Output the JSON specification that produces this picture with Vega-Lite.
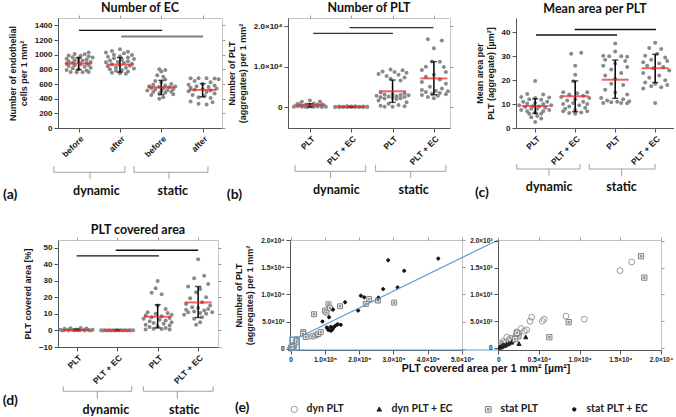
{
"$schema": "https://vega.github.io/schema/vega-lite/v6.json",
"padding": {"left": 2, "top": 1, "right": 0, "bottom": 0},
"bounds": "flush",
"spacing": 222,
"datasets": {
"a": [
{"g":1,"v":1030,"j":2.5},{"g":1,"v":1010,"j":-1},{"g":1,"v":1005,"j":1.5},{"g":1,"v":990,"j":-2.5},{"g":1,"v":985,"j":0.5},{"g":1,"v":975,"j":2.5},{"g":1,"v":965,"j":-1.5},{"g":1,"v":960,"j":3.5},{"g":1,"v":950,"j":0},{"g":1,"v":945,"j":-3},{"g":1,"v":935,"j":2},{"g":1,"v":925,"j":-1},{"g":1,"v":920,"j":1},{"g":1,"v":910,"j":-2.5},{"g":1,"v":900,"j":3},{"g":1,"v":895,"j":0},{"g":1,"v":890,"j":-1.5},{"g":1,"v":885,"j":2},{"g":1,"v":875,"j":-3},{"g":1,"v":870,"j":0.5},{"g":1,"v":860,"j":2.5},{"g":1,"v":855,"j":-1},{"g":1,"v":845,"j":-2.5},{"g":1,"v":835,"j":1.5},{"g":1,"v":820,"j":3},{"g":1,"v":815,"j":-1.5},{"g":1,"v":800,"j":0},{"g":1,"v":790,"j":-3},{"g":1,"v":785,"j":2},{"g":1,"v":765,"j":-2},{"g":1,"v":760,"j":-0.5},{"g":1,"v":760,"j":1},{"g":1,"v":765,"j":2.5},
{"g":2,"v":1075,"j":0},{"g":2,"v":1050,"j":-2},{"g":2,"v":1040,"j":2},{"g":2,"v":1030,"j":-3.5},{"g":2,"v":1020,"j":1},{"g":2,"v":1000,"j":-1.5},{"g":2,"v":995,"j":3},{"g":2,"v":980,"j":0},{"g":2,"v":970,"j":-3},{"g":2,"v":960,"j":2},{"g":2,"v":950,"j":-1.5},{"g":2,"v":940,"j":3.5},{"g":2,"v":930,"j":0.5},{"g":2,"v":920,"j":-2.5},{"g":2,"v":910,"j":2},{"g":2,"v":900,"j":-0.5},{"g":2,"v":895,"j":-3.5},{"g":2,"v":885,"j":1},{"g":2,"v":875,"j":3},{"g":2,"v":870,"j":-2},{"g":2,"v":860,"j":0},{"g":2,"v":850,"j":2.5},{"g":2,"v":840,"j":-3},{"g":2,"v":830,"j":-1},{"g":2,"v":820,"j":1.5},{"g":2,"v":810,"j":3.5},{"g":2,"v":800,"j":-2.5},{"g":2,"v":790,"j":0.5},{"g":2,"v":780,"j":-1},{"g":2,"v":770,"j":2},{"g":2,"v":755,"j":-2},{"g":2,"v":745,"j":0},{"g":2,"v":740,"j":1.5},
{"g":3,"v":800,"j":-0.5},{"g":3,"v":790,"j":1},{"g":3,"v":770,"j":0},{"g":3,"v":720,"j":-1},{"g":3,"v":700,"j":0.5},{"g":3,"v":660,"j":1},{"g":3,"v":640,"j":-1.5},{"g":3,"v":620,"j":0},{"g":3,"v":600,"j":2.5},{"g":3,"v":590,"j":-2},{"g":3,"v":580,"j":1},{"g":3,"v":570,"j":-3},{"g":3,"v":565,"j":3.5},{"g":3,"v":560,"j":-0.5},{"g":3,"v":555,"j":2},{"g":3,"v":545,"j":-2.5},{"g":3,"v":540,"j":0.5},{"g":3,"v":530,"j":3},{"g":3,"v":525,"j":-1.5},{"g":3,"v":515,"j":1.5},{"g":3,"v":510,"j":-3.5},{"g":3,"v":500,"j":0},{"g":3,"v":495,"j":2.5},{"g":3,"v":490,"j":-2},{"g":3,"v":480,"j":1},{"g":3,"v":470,"j":-0.5},{"g":3,"v":460,"j":3},{"g":3,"v":450,"j":-2.5},{"g":3,"v":420,"j":0.5},{"g":3,"v":400,"j":-0.5},
{"g":4,"v":680,"j":-3},{"g":4,"v":680,"j":-1},{"g":4,"v":680,"j":1},{"g":4,"v":675,"j":3},{"g":4,"v":665,"j":4},{"g":4,"v":640,"j":-2},{"g":4,"v":625,"j":2},{"g":4,"v":600,"j":0},{"g":4,"v":590,"j":-3.5},{"g":4,"v":580,"j":3},{"g":4,"v":570,"j":-1.5},{"g":4,"v":560,"j":1.5},{"g":4,"v":550,"j":-3},{"g":4,"v":540,"j":3.5},{"g":4,"v":530,"j":0},{"g":4,"v":520,"j":-2},{"g":4,"v":510,"j":2},{"g":4,"v":500,"j":-3.5},{"g":4,"v":490,"j":1},{"g":4,"v":470,"j":3},{"g":4,"v":450,"j":-2.5},{"g":4,"v":440,"j":0.5},{"g":4,"v":420,"j":-1},{"g":4,"v":410,"j":2},{"g":4,"v":360,"j":-3},{"g":4,"v":350,"j":2.5},{"g":4,"v":330,"j":-1},{"g":4,"v":320,"j":1}
],
"b": [
{"g":1,"v":1600,"j":0},{"g":1,"v":1400,"j":2.5},{"g":1,"v":1300,"j":-2},{"g":1,"v":900,"j":1},{"g":1,"v":800,"j":-3},{"g":1,"v":700,"j":3},{"g":1,"v":650,"j":-1},{"g":1,"v":600,"j":2},{"g":1,"v":550,"j":-2.5},{"g":1,"v":500,"j":0},{"g":1,"v":450,"j":3.5},{"g":1,"v":400,"j":-3.5},{"g":1,"v":350,"j":1.5},{"g":1,"v":300,"j":-1.5},{"g":1,"v":250,"j":3},{"g":1,"v":200,"j":-3},{"g":1,"v":150,"j":0.5},{"g":1,"v":120,"j":2},{"g":1,"v":100,"j":-2},{"g":1,"v":80,"j":-0.5},{"g":1,"v":60,"j":1},{"g":1,"v":50,"j":4},{"g":1,"v":40,"j":-4},{"g":1,"v":20,"j":3},{"g":1,"v":10,"j":-1},
{"g":2,"v":200,"j":-1},{"g":2,"v":180,"j":1},{"g":2,"v":150,"j":3},{"g":2,"v":150,"j":-3},{"g":2,"v":120,"j":0},{"g":2,"v":100,"j":2},{"g":2,"v":100,"j":-2},{"g":2,"v":90,"j":4},{"g":2,"v":80,"j":-4},{"g":2,"v":70,"j":1},{"g":2,"v":60,"j":-1},{"g":2,"v":50,"j":3},{"g":2,"v":50,"j":-3},{"g":2,"v":40,"j":0},{"g":2,"v":30,"j":2},{"g":2,"v":30,"j":-2},{"g":2,"v":20,"j":4},{"g":2,"v":20,"j":-4},{"g":2,"v":10,"j":1},{"g":2,"v":10,"j":-1},{"g":2,"v":5,"j":3},{"g":2,"v":5,"j":-3},{"g":2,"v":0,"j":0},
{"g":3,"v":9300,"j":-0.5},{"g":3,"v":9100,"j":2.5},{"g":3,"v":8800,"j":-2.5},{"g":3,"v":8700,"j":0.5},{"g":3,"v":8500,"j":3.5},{"g":3,"v":8200,"j":-3.5},{"g":3,"v":8000,"j":1.5},{"g":3,"v":7700,"j":-1.5},{"g":3,"v":7300,"j":3},{"g":3,"v":7000,"j":-0.5},{"g":3,"v":6600,"j":2},{"g":3,"v":3600,"j":-3},{"g":3,"v":3400,"j":3},{"g":3,"v":3200,"j":0},{"g":3,"v":3100,"j":-2},{"g":3,"v":3000,"j":2},{"g":3,"v":2900,"j":4},{"g":3,"v":2800,"j":-4},{"g":3,"v":2700,"j":1},{"g":3,"v":2600,"j":-1},{"g":3,"v":2500,"j":3},{"g":3,"v":2400,"j":-3},{"g":3,"v":2300,"j":0},{"g":3,"v":2200,"j":2},{"g":3,"v":2100,"j":-2},{"g":3,"v":2000,"j":1},{"g":3,"v":1600,"j":-3.5},{"g":3,"v":1200,"j":3.5},{"g":3,"v":800,"j":-1},{"g":3,"v":500,"j":1.5},{"g":3,"v":300,"j":-3},{"g":3,"v":200,"j":3},{"g":3,"v":100,"j":0},{"g":3,"v":50,"j":-2},
{"g":4,"v":16800,"j":-1.5},{"g":4,"v":16500,"j":2},{"g":4,"v":14600,"j":0},{"g":4,"v":11300,"j":-0.5},{"g":4,"v":11200,"j":1.5},{"g":4,"v":10000,"j":-2},{"g":4,"v":9900,"j":2.5},{"g":4,"v":9200,"j":-3},{"g":4,"v":8700,"j":3},{"g":4,"v":8000,"j":0},{"g":4,"v":7500,"j":-2},{"g":4,"v":6800,"j":1.5},{"g":4,"v":6200,"j":-3},{"g":4,"v":5800,"j":3},{"g":4,"v":5000,"j":-1},{"g":4,"v":4600,"j":2},{"g":4,"v":4200,"j":-3},{"g":4,"v":4000,"j":0.5},{"g":4,"v":3900,"j":3.5},{"g":4,"v":3700,"j":-2},{"g":4,"v":3500,"j":1.5},{"g":4,"v":3300,"j":-0.5},{"g":4,"v":3200,"j":3},{"g":4,"v":3000,"j":-3},{"g":4,"v":2800,"j":1},{"g":4,"v":2500,"j":-1.5},{"g":4,"v":2200,"j":0}
],
"c": [
{"g":1,"v":19.7,"j":0},{"g":1,"v":14.2,"j":-2},{"g":1,"v":14,"j":2},{"g":1,"v":13,"j":-3.5},{"g":1,"v":12.8,"j":3.5},{"g":1,"v":12.5,"j":0},{"g":1,"v":12,"j":-1.5},{"g":1,"v":11.8,"j":1.5},{"g":1,"v":11,"j":-3},{"g":1,"v":11,"j":3},{"g":1,"v":10.5,"j":0},{"g":1,"v":10.2,"j":-2},{"g":1,"v":10,"j":2},{"g":1,"v":9.5,"j":-4},{"g":1,"v":9.5,"j":4},{"g":1,"v":9.2,"j":-0.5},{"g":1,"v":9,"j":1},{"g":1,"v":8.8,"j":-2.5},{"g":1,"v":8.5,"j":2.5},{"g":1,"v":8,"j":-1},{"g":1,"v":8,"j":0.5},{"g":1,"v":7.5,"j":3.5},{"g":1,"v":7.5,"j":-3.5},{"g":1,"v":7,"j":2},{"g":1,"v":7,"j":-2},{"g":1,"v":6.5,"j":0},{"g":1,"v":6,"j":1.5},{"g":1,"v":6,"j":-1.5},{"g":1,"v":5,"j":0.5},{"g":1,"v":4.5,"j":-1},{"g":1,"v":4,"j":1.5},{"g":1,"v":2.5,"j":0},
{"g":2,"v":31.5,"j":1.5},{"g":2,"v":31,"j":-1},{"g":2,"v":26,"j":0},{"g":2,"v":22.3,"j":0},{"g":2,"v":19.5,"j":-0.5},{"g":2,"v":15,"j":-3},{"g":2,"v":15,"j":3},{"g":2,"v":14.5,"j":0.5},{"g":2,"v":14,"j":-1.5},{"g":2,"v":13.5,"j":2},{"g":2,"v":13,"j":-3.5},{"g":2,"v":12.5,"j":3.5},{"g":2,"v":12,"j":0},{"g":2,"v":11.5,"j":-2},{"g":2,"v":11,"j":2},{"g":2,"v":10.5,"j":-0.5},{"g":2,"v":10,"j":3},{"g":2,"v":10,"j":-3},{"g":2,"v":9.5,"j":1},{"g":2,"v":9,"j":-1.5},{"g":2,"v":8.5,"j":2.5},{"g":2,"v":8,"j":-2.5},{"g":2,"v":7.5,"j":0},{"g":2,"v":7,"j":3},{"g":2,"v":7,"j":-3},{"g":2,"v":6.5,"j":1.5},{"g":2,"v":6.3,"j":-1.5},{"g":2,"v":6,"j":0},
{"g":3,"v":35.3,"j":0},{"g":3,"v":32,"j":0},{"g":3,"v":30.2,"j":-3},{"g":3,"v":30,"j":-1.5},{"g":3,"v":30,"j":1.5},{"g":3,"v":29.8,"j":3},{"g":3,"v":28.5,"j":-2.5},{"g":3,"v":28,"j":2.5},{"g":3,"v":27,"j":0},{"g":3,"v":26,"j":-3},{"g":3,"v":25.5,"j":3},{"g":3,"v":24.5,"j":-1},{"g":3,"v":23,"j":1.5},{"g":3,"v":22,"j":-2.5},{"g":3,"v":20.5,"j":0},{"g":3,"v":18.5,"j":-1},{"g":3,"v":18,"j":2},{"g":3,"v":16,"j":-2.5},{"g":3,"v":14.8,"j":0},{"g":3,"v":14,"j":3},{"g":3,"v":12.5,"j":-3.5},{"g":3,"v":12,"j":2},{"g":3,"v":11.5,"j":-2},{"g":3,"v":11.2,"j":3.5},{"g":3,"v":11,"j":0.5},{"g":3,"v":10.8,"j":-1},{"g":3,"v":10.5,"j":1.5},{"g":3,"v":10.5,"j":-3},{"g":3,"v":10.3,"j":3},
{"g":4,"v":35.7,"j":0},{"g":4,"v":33.5,"j":-1.5},{"g":4,"v":33,"j":1.5},{"g":4,"v":31,"j":0.5},{"g":4,"v":30.2,"j":-2.5},{"g":4,"v":29.5,"j":2.5},{"g":4,"v":28.5,"j":-1},{"g":4,"v":28,"j":3},{"g":4,"v":27.5,"j":-3},{"g":4,"v":27,"j":1},{"g":4,"v":26,"j":-2},{"g":4,"v":25.5,"j":2},{"g":4,"v":25,"j":-0.5},{"g":4,"v":24,"j":3.5},{"g":4,"v":23,"j":-3},{"g":4,"v":22,"j":1},{"g":4,"v":21,"j":-1.5},{"g":4,"v":20,"j":2.5},{"g":4,"v":19,"j":-2.5},{"g":4,"v":18.5,"j":0},{"g":4,"v":18,"j":3},{"g":4,"v":17.5,"j":-1},{"g":4,"v":17,"j":1.5},{"g":4,"v":16.5,"j":-3},{"g":4,"v":10.5,"j":0}
],
"d": [
{"g":1,"v":1.5,"j":1},{"g":1,"v":1.3,"j":-1.5},{"g":1,"v":1.2,"j":2.5},{"g":1,"v":1.0,"j":-3},{"g":1,"v":0.6,"j":0},{"g":1,"v":0.5,"j":-2},{"g":1,"v":0.5,"j":2},{"g":1,"v":0.4,"j":-4},{"g":1,"v":0.4,"j":4},{"g":1,"v":0.3,"j":1},{"g":1,"v":0.3,"j":-1},{"g":1,"v":0.2,"j":3},{"g":1,"v":0.2,"j":-3},{"g":1,"v":0.1,"j":0.5},{"g":1,"v":0.1,"j":-0.5},{"g":1,"v":0,"j":2},{"g":1,"v":0,"j":-2},{"g":1,"v":0,"j":3.5},{"g":1,"v":0,"j":-3.5},
{"g":2,"v":0.2,"j":0},{"g":2,"v":0.15,"j":-1},{"g":2,"v":0.15,"j":1},{"g":2,"v":0.1,"j":-2},{"g":2,"v":0.1,"j":2},{"g":2,"v":0.1,"j":-3},{"g":2,"v":0.1,"j":3},{"g":2,"v":0.05,"j":-4},{"g":2,"v":0.05,"j":4},{"g":2,"v":0,"j":-0.5},{"g":2,"v":0,"j":0.5},{"g":2,"v":0,"j":-1.5},{"g":2,"v":0,"j":1.5},{"g":2,"v":0,"j":-2.5},{"g":2,"v":0,"j":2.5},{"g":2,"v":0,"j":-3.5},{"g":2,"v":0,"j":3.5},
{"g":3,"v":29.8,"j":0},{"g":3,"v":25.5,"j":-0.5},{"g":3,"v":22.8,"j":-1.5},{"g":3,"v":21.8,"j":1},{"g":3,"v":15,"j":0},{"g":3,"v":13,"j":2},{"g":3,"v":11,"j":-2.5},{"g":3,"v":10.5,"j":2.5},{"g":3,"v":10,"j":-0.5},{"g":3,"v":9.5,"j":3.5},{"g":3,"v":9,"j":-3},{"g":3,"v":8.5,"j":1},{"g":3,"v":8,"j":-1.5},{"g":3,"v":7.5,"j":3},{"g":3,"v":7,"j":-3.5},{"g":3,"v":6.5,"j":0.5},{"g":3,"v":6,"j":2},{"g":3,"v":5.5,"j":-2},{"g":3,"v":5,"j":3.5},{"g":3,"v":4.5,"j":-1},{"g":3,"v":4,"j":1.5},{"g":3,"v":3.5,"j":-3},{"g":3,"v":3,"j":3},{"g":3,"v":2.5,"j":0},{"g":3,"v":2,"j":-2},{"g":3,"v":1.5,"j":2},{"g":3,"v":1,"j":-1},{"g":3,"v":0.8,"j":1},{"g":3,"v":0.5,"j":-3},{"g":3,"v":0.5,"j":3},
{"g":4,"v":43,"j":0},{"g":4,"v":33,"j":1.5},{"g":4,"v":31.5,"j":-1},{"g":4,"v":28,"j":2.5},{"g":4,"v":26.5,"j":-2.5},{"g":4,"v":25,"j":0.5},{"g":4,"v":23,"j":-0.5},{"g":4,"v":20,"j":2},{"g":4,"v":19.5,"j":-2},{"g":4,"v":17,"j":1},{"g":4,"v":16,"j":-3},{"g":4,"v":15,"j":3},{"g":4,"v":14,"j":-1.5},{"g":4,"v":13.5,"j":0},{"g":4,"v":13,"j":2.5},{"g":4,"v":12.5,"j":-3},{"g":4,"v":12,"j":1.5},{"g":4,"v":11.5,"j":-1},{"g":4,"v":11,"j":3.5},{"g":4,"v":11,"j":-2.5},{"g":4,"v":10.5,"j":0.5},{"g":4,"v":10,"j":2},{"g":4,"v":9.5,"j":-3.5},{"g":4,"v":8,"j":1},{"g":4,"v":7,"j":-1},{"g":4,"v":5,"j":0.5},{"g":4,"v":3.5,"j":-0.5}
],
"sa": [{"g":1,"m":880,"lo":795,"hi":960},{"g":2,"m":865,"lo":763,"hi":960},{"g":3,"m":555,"lo":455,"hi":650},{"g":4,"m":520,"lo":425,"hi":605}],
"sb": [{"g":1,"m":420,"lo":0,"hi":800},{"g":2,"m":50,"lo":0,"hi":100},{"g":3,"m":3900,"lo":1150,"hi":6700},{"g":4,"m":7100,"lo":3050,"hi":11250}],
"sc": [{"g":1,"m":9.2,"lo":6.1,"hi":12.2},{"g":2,"m":13.3,"lo":6.8,"hi":19.7},{"g":3,"m":20.2,"lo":12.4,"hi":28.4},{"g":4,"m":25,"lo":19,"hi":30.8}],
"sd": [{"g":1,"m":0.3,"lo":0,"hi":0.8},{"g":2,"m":0.05,"lo":0,"hi":0.1},{"g":3,"m":8.3,"lo":1.5,"hi":15.5},{"g":4,"m":16.9,"lo":7.8,"hi":26.5}],
"e": [
{"s":"dyn PLT","x":14960,"y":1443},{"s":"dyn PLT","x":16390,"y":1605},{"s":"dyn PLT","x":4100,"y":573},{"s":"dyn PLT","x":3900,"y":498},{"s":"dyn PLT","x":5620,"y":535},{"s":"dyn PLT","x":5410,"y":498},{"s":"dyn PLT","x":8320,"y":591},{"s":"dyn PLT","x":10570,"y":535},{"s":"dyn PLT","x":2790,"y":361},{"s":"dyn PLT","x":3200,"y":311},{"s":"dyn PLT","x":3480,"y":336},{"s":"dyn PLT","x":2260,"y":299},{"s":"dyn PLT","x":2200,"y":236},{"s":"dyn PLT","x":1030,"y":199},{"s":"dyn PLT","x":1850,"y":187},{"s":"dyn PLT","x":615,"y":125},{"s":"dyn PLT","x":205,"y":81},{"s":"dyn PLT","x":1300,"y":150},{"s":"dyn PLT","x":900,"y":100},{"s":"dyn PLT","x":500,"y":60},{"s":"dyn PLT","x":300,"y":40},{"s":"dyn PLT","x":1500,"y":180},{"s":"dyn PLT","x":2500,"y":250},{"s":"dyn PLT","x":700,"y":90},
{"s":"dyn PLT + EC","x":3370,"y":199},{"s":"dyn PLT + EC","x":2540,"y":75},{"s":"dyn PLT + EC","x":1650,"y":100},{"s":"dyn PLT + EC","x":1020,"y":62},{"s":"dyn PLT + EC","x":800,"y":40},{"s":"dyn PLT + EC","x":500,"y":30},{"s":"dyn PLT + EC","x":300,"y":20},{"s":"dyn PLT + EC","x":1300,"y":80},{"s":"dyn PLT + EC","x":200,"y":10},{"s":"dyn PLT + EC","x":1800,"y":140},{"s":"dyn PLT + EC","x":600,"y":50},{"s":"dyn PLT + EC","x":100,"y":5},{"s":"dyn PLT + EC","x":400,"y":15},
{"s":"stat PLT","x":17540,"y":1711},{"s":"stat PLT","x":17950,"y":1312},{"s":"stat PLT","x":8650,"y":480},{"s":"stat PLT","x":6270,"y":199},{"s":"stat PLT","x":2460,"y":217},{"s":"stat PLT","x":2050,"y":162},{"s":"stat PLT","x":2300,"y":280},{"s":"stat PLT","x":110200,"y":8170},{"s":"stat PLT","x":100300,"y":7020},{"s":"stat PLT","x":104400,"y":6650},{"s":"stat PLT","x":115000,"y":7440},{"s":"stat PLT","x":144200,"y":7800},{"s":"stat PLT","x":68200,"y":6340},{"s":"stat PLT","x":229000,"y":9140},{"s":"stat PLT","x":219300,"y":8230},{"s":"stat PLT","x":254400,"y":8850},{"s":"stat PLT","x":302000,"y":8480},{"s":"stat PLT","x":37000,"y":3050},{"s":"stat PLT","x":36000,"y":2750},{"s":"stat PLT","x":43900,"y":2140},{"s":"stat PLT","x":73100,"y":2450},{"s":"stat PLT","x":80400,"y":2690},{"s":"stat PLT","x":87700,"y":3050},{"s":"stat PLT","x":63000,"y":2260},
{"s":"stat PLT + EC","x":284500,"y":16270},{"s":"stat PLT + EC","x":430700,"y":16580},{"s":"stat PLT + EC","x":331400,"y":14330},{"s":"stat PLT + EC","x":270000,"y":10970},{"s":"stat PLT + EC","x":312000,"y":11280},{"s":"stat PLT + EC","x":204700,"y":9760},{"s":"stat PLT + EC","x":214400,"y":9450},{"s":"stat PLT + EC","x":256400,"y":9390},{"s":"stat PLT + EC","x":158800,"y":8540},{"s":"stat PLT + EC","x":123800,"y":7200},{"s":"stat PLT + EC","x":196800,"y":7020},{"s":"stat PLT + EC","x":112000,"y":5790},{"s":"stat PLT + EC","x":92600,"y":5000},{"s":"stat PLT + EC","x":105300,"y":3900},{"s":"stat PLT + EC","x":108700,"y":3660},{"s":"stat PLT + EC","x":117000,"y":3290},{"s":"stat PLT + EC","x":121900,"y":3540},{"s":"stat PLT + EC","x":128700,"y":4150},{"s":"stat PLT + EC","x":134500,"y":4390},{"s":"stat PLT + EC","x":146200,"y":4390},{"s":"stat PLT + EC","x":137400,"y":4510},{"s":"stat PLT + EC","x":117000,"y":4020},{"s":"stat PLT + EC","x":110000,"y":3450},{"s":"stat PLT + EC","x":125000,"y":3900}
]
},
"vconcat": [
{"hconcat": [
{"width": 164, "height": 110, "title": {"text": "Number of EC", "offset": 0},
 "resolve": {"axis": {"x": "independent", "y": "independent"}},
 "layer": [
  {"data": {"name": "a"}, "mark": {"type": "point", "filled": true, "size": 16, "color": "#8a8a8a", "opacity": 1, "xOffset": {"expr": "datum.j * 4"}},
   "encoding": {
    "x": {"field": "g", "type": "quantitative", "scale": {"domain": [0.5, 4.47], "nice": false, "zero": false}, "axis": {"values": [1,2,3,4], "labelExpr": "['before','after','before','after'][datum.value-1]", "labelAngle": -45, "labelFontSize": 8.5, "labelOverlap": false, "title": null}},
    "y": {"field": "v", "type": "quantitative", "scale": {"domain": [0, 1500], "nice": false, "zero": false}, "axis": {"values": [0,200,400,600,800,1000,1200,1400], "format": "d", "labelOverlap": false, "title": ["Number of endothelial", "cells per 1 mm²"]}}}},
  {"data": {"name": "sa"}, "mark": {"type": "rule", "color": "#000", "strokeWidth": 1.5}, "encoding": {"x": {"field": "g", "type": "quantitative", "scale": {"domain": [0.5, 4.47], "nice": false, "zero": false}, "axis": null}, "y": {"field": "lo", "type": "quantitative", "scale": {"domain": [0, 1500], "nice": false, "zero": false}, "axis": null}, "y2": {"field": "hi"}}},
  {"data": {"name": "sa"}, "mark": {"type": "tick", "orient": "horizontal", "size": 6, "thickness": 1.5, "color": "#000"}, "encoding": {"x": {"field": "g", "type": "quantitative", "scale": {"domain": [0.5, 4.47], "nice": false, "zero": false}, "axis": null}, "y": {"field": "lo", "type": "quantitative", "scale": {"domain": [0, 1500], "nice": false, "zero": false}, "axis": null}}},
  {"data": {"name": "sa"}, "mark": {"type": "tick", "orient": "horizontal", "size": 6, "thickness": 1.5, "color": "#000"}, "encoding": {"x": {"field": "g", "type": "quantitative", "scale": {"domain": [0.5, 4.47], "nice": false, "zero": false}, "axis": null}, "y": {"field": "hi", "type": "quantitative", "scale": {"domain": [0, 1500], "nice": false, "zero": false}, "axis": null}}},
  {"data": {"name": "sa"}, "mark": {"type": "tick", "orient": "horizontal", "size": 27, "thickness": 2, "color": "#f01e1e"}, "encoding": {"x": {"field": "g", "type": "quantitative", "scale": {"domain": [0.5, 4.47], "nice": false, "zero": false}, "axis": null}, "y": {"field": "m", "type": "quantitative", "scale": {"domain": [0, 1500], "nice": false, "zero": false}, "axis": null}}},
  {"data": {"values": [{"x": 1.01, "x2": 3.02, "y": 1331}]}, "mark": {"type": "rule", "color": "#111", "strokeWidth": 1.2}, "encoding": {"x": {"field": "x", "type": "quantitative", "scale": {"domain": [0.5, 4.47], "nice": false, "zero": false}, "axis": {"orient": "top", "values": [1,2,3,4], "labels": false, "domain": false, "tickColor": "#9a9a9a", "tickSize": 3, "title": null}}, "x2": {"field": "x2"}, "y": {"field": "y", "type": "quantitative", "scale": {"domain": [0, 1500], "nice": false, "zero": false}, "axis": {"orient": "right", "values": [0,200,400,600,800,1000,1200,1400], "labels": false, "domain": false, "tickColor": "#9a9a9a", "tickSize": 3, "title": null}}}},
  {"data": {"values": [{"x": 2.03, "x2": 4.01, "y": 1249}]}, "mark": {"type": "rule", "color": "#7f7f7f", "strokeWidth": 2}, "encoding": {"x": {"field": "x", "type": "quantitative", "scale": {"domain": [0.5, 4.47], "nice": false, "zero": false}, "axis": null}, "x2": {"field": "x2"}, "y": {"field": "y", "type": "quantitative", "scale": {"domain": [0, 1500], "nice": false, "zero": false}, "axis": null}}},
  {"data": {"values": [{"x":0.40,"x2":2.12,"y":-604,"y2":-604},{"x":0.40,"x2":0.40,"y":-522,"y2":-604},{"x":2.12,"x2":2.12,"y":-522,"y2":-604},{"x":1.275,"x2":1.275,"y":-604,"y2":-699},{"x":2.34,"x2":4.13,"y":-604,"y2":-604},{"x":2.34,"x2":2.34,"y":-522,"y2":-604},{"x":4.13,"x2":4.13,"y":-522,"y2":-604},{"x":3.19,"x2":3.19,"y":-604,"y2":-699}]},
   "mark": {"type": "rule", "color": "#a0a0a0", "strokeWidth": 1, "clip": false}, "encoding": {"x": {"field": "x", "type": "quantitative", "scale": {"domain": [0.5, 4.47], "nice": false, "zero": false}, "axis": null}, "x2": {"field": "x2"}, "y": {"field": "y", "type": "quantitative", "scale": {"domain": [0, 1500], "nice": false, "zero": false}, "axis": null}, "y2": {"field": "y2"}}},
  {"data": {"values": [{"x": 1.43, "y": -862, "t": "dynamic"}, {"x": 3.28, "y": -862, "t": "static"}]}, "mark": {"type": "text", "font": "Lato", "fontSize": 12.5, "fontWeight": "bold", "color": "#111", "align": "center", "baseline": "middle", "clip": false}, "encoding": {"x": {"field": "x", "type": "quantitative", "scale": {"domain": [0.5, 4.47], "nice": false, "zero": false}, "axis": null}, "y": {"field": "y", "type": "quantitative", "scale": {"domain": [0, 1500], "nice": false, "zero": false}, "axis": null}, "text": {"field": "t", "type": "nominal"}}},
  {"data": {"values": [{"x": -0.83, "y": -910, "t": "(a)"}]}, "mark": {"type": "text", "font": "Lato", "fontSize": 14, "fontWeight": "bold", "color": "#111", "align": "left", "baseline": "middle", "clip": false}, "encoding": {"x": {"field": "x", "type": "quantitative", "scale": {"domain": [0.5, 4.47], "nice": false, "zero": false}, "axis": null}, "y": {"field": "y", "type": "quantitative", "scale": {"domain": [0, 1500], "nice": false, "zero": false}, "axis": null}, "text": {"field": "t", "type": "nominal"}}}
 ]},
{"width": 162, "height": 110, "title": {"text": "Number of PLT", "offset": 0},
 "resolve": {"axis": {"x": "independent", "y": "independent"}},
 "layer": [
  {"data": {"name": "b"}, "mark": {"type": "point", "filled": true, "size": 16, "color": "#8a8a8a", "opacity": 1, "xOffset": {"expr": "datum.j * 4"}},
   "encoding": {
    "x": {"field": "g", "type": "quantitative", "scale": {"domain": [0.47, 4.39], "nice": false, "zero": false}, "axis": {"values": [1,2,3,4], "labelExpr": "['PLT','PLT + EC','PLT','PLT + EC'][datum.value-1]", "labelAngle": -45, "labelFontSize": 8.5, "labelOverlap": false, "title": null}},
    "y": {"field": "v", "type": "quantitative", "scale": {"domain": [-5200, 22080], "nice": false, "zero": false}, "axis": {"values": [0, 10000, 20000], "labelExpr": "datum.value == 0 ? '0' : format(datum.value/10000, '.1f') + '×10⁴'", "labelOverlap": false, "title": ["Number of PLT", "(aggregates) per 1 mm²"]}}}},
  {"data": {"name": "sb"}, "mark": {"type": "rule", "color": "#000", "strokeWidth": 1.5}, "encoding": {"x": {"field": "g", "type": "quantitative", "scale": {"domain": [0.47, 4.39], "nice": false, "zero": false}, "axis": null}, "y": {"field": "lo", "type": "quantitative", "scale": {"domain": [-5200, 22080], "nice": false, "zero": false}, "axis": null}, "y2": {"field": "hi"}}},
  {"data": {"name": "sb"}, "mark": {"type": "tick", "orient": "horizontal", "size": 6, "thickness": 1.5, "color": "#000"}, "encoding": {"x": {"field": "g", "type": "quantitative", "scale": {"domain": [0.47, 4.39], "nice": false, "zero": false}, "axis": null}, "y": {"field": "lo", "type": "quantitative", "scale": {"domain": [-5200, 22080], "nice": false, "zero": false}, "axis": null}}},
  {"data": {"name": "sb"}, "mark": {"type": "tick", "orient": "horizontal", "size": 6, "thickness": 1.5, "color": "#000"}, "encoding": {"x": {"field": "g", "type": "quantitative", "scale": {"domain": [0.47, 4.39], "nice": false, "zero": false}, "axis": null}, "y": {"field": "hi", "type": "quantitative", "scale": {"domain": [-5200, 22080], "nice": false, "zero": false}, "axis": null}}},
  {"data": {"name": "sb"}, "mark": {"type": "tick", "orient": "horizontal", "size": 27, "thickness": 2, "color": "#f01e1e"}, "encoding": {"x": {"field": "g", "type": "quantitative", "scale": {"domain": [0.47, 4.39], "nice": false, "zero": false}, "axis": null}, "y": {"field": "m", "type": "quantitative", "scale": {"domain": [-5200, 22080], "nice": false, "zero": false}, "axis": null}}},
  {"data": {"values": [{"x": 1.08, "x2": 3.01, "y": 18285}, {"x": 1.96, "x2": 3.99, "y": 19674}]}, "mark": {"type": "rule", "color": "#333", "strokeWidth": 1.3}, "encoding": {"x": {"field": "x", "type": "quantitative", "scale": {"domain": [0.47, 4.39], "nice": false, "zero": false}, "axis": {"orient": "top", "values": [1,2,3,4], "labels": false, "domain": false, "tickColor": "#9a9a9a", "tickSize": 3, "title": null}}, "x2": {"field": "x2"}, "y": {"field": "y", "type": "quantitative", "scale": {"domain": [-5200, 22080], "nice": false, "zero": false}, "axis": {"orient": "right", "values": [0, 10000, 20000], "labels": false, "domain": false, "tickColor": "#9a9a9a", "tickSize": 3, "title": null}}}},
  {"data": {"values": [{"x":0.64,"x2":2.35,"y":-15953,"y2":-15953},{"x":0.64,"x2":0.64,"y":-14316,"y2":-15953},{"x":2.35,"x2":2.35,"y":-14316,"y2":-15953},{"x":1.50,"x2":1.50,"y":-15953,"y2":-17615},{"x":2.59,"x2":4.29,"y":-15953,"y2":-15953},{"x":2.59,"x2":2.59,"y":-14316,"y2":-15953},{"x":4.29,"x2":4.29,"y":-14316,"y2":-15953},{"x":3.44,"x2":3.44,"y":-15953,"y2":-17615}]},
   "mark": {"type": "rule", "color": "#a0a0a0", "strokeWidth": 1, "clip": false}, "encoding": {"x": {"field": "x", "type": "quantitative", "scale": {"domain": [0.47, 4.39], "nice": false, "zero": false}, "axis": null}, "x2": {"field": "x2"}, "y": {"field": "y", "type": "quantitative", "scale": {"domain": [-5200, 22080], "nice": false, "zero": false}, "axis": null}, "y2": {"field": "y2"}}},
  {"data": {"values": [{"x": 1.64, "y": -20667, "t": "dynamic"}, {"x": 3.51, "y": -20667, "t": "static"}]}, "mark": {"type": "text", "font": "Lato", "fontSize": 12.5, "fontWeight": "bold", "color": "#111", "align": "center", "baseline": "middle", "clip": false}, "encoding": {"x": {"field": "x", "type": "quantitative", "scale": {"domain": [0.47, 4.39], "nice": false, "zero": false}, "axis": null}, "y": {"field": "y", "type": "quantitative", "scale": {"domain": [-5200, 22080], "nice": false, "zero": false}, "axis": null}, "text": {"field": "t", "type": "nominal"}}},
  {"data": {"values": [{"x": -1.01, "y": -21758, "t": "(b)"}]}, "mark": {"type": "text", "font": "Lato", "fontSize": 14, "fontWeight": "bold", "color": "#111", "align": "left", "baseline": "middle", "clip": false}, "encoding": {"x": {"field": "x", "type": "quantitative", "scale": {"domain": [0.47, 4.39], "nice": false, "zero": false}, "axis": null}, "y": {"field": "y", "type": "quantitative", "scale": {"domain": [-5200, 22080], "nice": false, "zero": false}, "axis": null}, "text": {"field": "t", "type": "nominal"}}}
 ]},
{"width": 158, "height": 110, "title": {"text": "Mean area per PLT"}, "view": {"stroke": null},
 "resolve": {"axis": {"x": "independent", "y": "independent"}},
 "layer": [
  {"data": {"name": "c"}, "mark": {"type": "point", "filled": true, "size": 16, "color": "#8a8a8a", "opacity": 1, "xOffset": {"expr": "datum.j * 4"}},
   "encoding": {
    "x": {"field": "g", "type": "quantitative", "scale": {"domain": [0.52, 4.47], "nice": false, "zero": false}, "axis": {"values": [1,2,3,4], "labelExpr": "['PLT','PLT + EC','PLT','PLT + EC'][datum.value-1]", "labelAngle": -45, "labelFontSize": 8.5, "labelOverlap": false, "title": null}},
    "y": {"field": "v", "type": "quantitative", "scale": {"domain": [0, 46], "nice": false, "zero": false}, "axis": {"values": [0,10,20,30,40], "format": "d", "labelOverlap": false, "title": ["Mean area per", "PLT (aggregate) [µm²]"]}}}},
  {"data": {"name": "sc"}, "mark": {"type": "rule", "color": "#000", "strokeWidth": 1.5}, "encoding": {"x": {"field": "g", "type": "quantitative", "scale": {"domain": [0.52, 4.47], "nice": false, "zero": false}, "axis": null}, "y": {"field": "lo", "type": "quantitative", "scale": {"domain": [0, 46], "nice": false, "zero": false}, "axis": null}, "y2": {"field": "hi"}}},
  {"data": {"name": "sc"}, "mark": {"type": "tick", "orient": "horizontal", "size": 6, "thickness": 1.5, "color": "#000"}, "encoding": {"x": {"field": "g", "type": "quantitative", "scale": {"domain": [0.52, 4.47], "nice": false, "zero": false}, "axis": null}, "y": {"field": "lo", "type": "quantitative", "scale": {"domain": [0, 46], "nice": false, "zero": false}, "axis": null}}},
  {"data": {"name": "sc"}, "mark": {"type": "tick", "orient": "horizontal", "size": 6, "thickness": 1.5, "color": "#000"}, "encoding": {"x": {"field": "g", "type": "quantitative", "scale": {"domain": [0.52, 4.47], "nice": false, "zero": false}, "axis": null}, "y": {"field": "hi", "type": "quantitative", "scale": {"domain": [0, 46], "nice": false, "zero": false}, "axis": null}}},
  {"data": {"name": "sc"}, "mark": {"type": "tick", "orient": "horizontal", "size": 27, "thickness": 2, "color": "#f01e1e"}, "encoding": {"x": {"field": "g", "type": "quantitative", "scale": {"domain": [0.52, 4.47], "nice": false, "zero": false}, "axis": null}, "y": {"field": "m", "type": "quantitative", "scale": {"domain": [0, 46], "nice": false, "zero": false}, "axis": null}}},
  {"data": {"values": [{"x": 1.02, "x2": 3.045, "y": 38.9}, {"x": 1.99, "x2": 4.02, "y": 41.2}]}, "mark": {"type": "rule", "color": "#111", "strokeWidth": 1.3}, "encoding": {"x": {"field": "x", "type": "quantitative", "scale": {"domain": [0.52, 4.47], "nice": false, "zero": false}, "axis": null}, "x2": {"field": "x2"}, "y": {"field": "y", "type": "quantitative", "scale": {"domain": [0, 46], "nice": false, "zero": false}, "axis": null}}},
  {"data": {"values": [{"x":0.54,"x2":2.12,"y":-17.15,"y2":-17.15},{"x":0.54,"x2":0.54,"y":-15.06,"y2":-17.15},{"x":2.12,"x2":2.12,"y":-15.06,"y2":-17.15},{"x":1.345,"x2":1.345,"y":-17.15,"y2":-20.2},{"x":2.35,"x2":3.995,"y":-17.15,"y2":-17.15},{"x":2.35,"x2":2.35,"y":-15.06,"y2":-17.15},{"x":3.995,"x2":3.995,"y":-15.06,"y2":-17.15},{"x":3.16,"x2":3.16,"y":-17.15,"y2":-20.2}]},
   "mark": {"type": "rule", "color": "#a0a0a0", "strokeWidth": 1, "clip": false}, "encoding": {"x": {"field": "x", "type": "quantitative", "scale": {"domain": [0.52, 4.47], "nice": false, "zero": false}, "axis": null}, "x2": {"field": "x2"}, "y": {"field": "y", "type": "quantitative", "scale": {"domain": [0, 46], "nice": false, "zero": false}, "axis": null}, "y2": {"field": "y2"}}},
  {"data": {"values": [{"x": 1.35, "y": -24.8, "t": "dynamic"}, {"x": 3.16, "y": -24.8, "t": "static"}]}, "mark": {"type": "text", "font": "Lato", "fontSize": 12.5, "fontWeight": "bold", "color": "#111", "align": "center", "baseline": "middle", "clip": false}, "encoding": {"x": {"field": "x", "type": "quantitative", "scale": {"domain": [0.52, 4.47], "nice": false, "zero": false}, "axis": null}, "y": {"field": "y", "type": "quantitative", "scale": {"domain": [0, 46], "nice": false, "zero": false}, "axis": null}, "text": {"field": "t", "type": "nominal"}}},
  {"data": {"values": [{"x": -0.505, "y": -27.2, "t": "(c)"}]}, "mark": {"type": "text", "font": "Lato", "fontSize": 14, "fontWeight": "bold", "color": "#111", "align": "left", "baseline": "middle", "clip": false}, "encoding": {"x": {"field": "x", "type": "quantitative", "scale": {"domain": [0.52, 4.47], "nice": false, "zero": false}, "axis": null}, "y": {"field": "y", "type": "quantitative", "scale": {"domain": [0, 46], "nice": false, "zero": false}, "axis": null}, "text": {"field": "t", "type": "nominal"}}}
 ]}
], "spacing": 66, "bounds": "flush"},
{"hconcat": [
{"width": 160, "height": 107, "title": {"text": "PLT covered area", "offset": 0},
 "resolve": {"axis": {"x": "independent", "y": "independent"}},
 "layer": [
  {"data": {"name": "d"}, "mark": {"type": "point", "filled": true, "size": 16, "color": "#8a8a8a", "opacity": 1, "xOffset": {"expr": "datum.j * 4"}},
   "encoding": {
    "x": {"field": "g", "type": "quantitative", "scale": {"domain": [0.54, 4.49], "nice": false, "zero": false}, "axis": {"values": [1,2,3,4], "labelExpr": "['PLT','PLT + EC','PLT','PLT + EC'][datum.value-1]", "labelAngle": -45, "labelFontSize": 8.5, "labelOverlap": false, "title": null}},
    "y": {"field": "v", "type": "quantitative", "scale": {"domain": [-10, 54.6], "nice": false, "zero": false}, "axis": {"values": [-10,0,10,20,30,40,50], "format": "d", "labelOverlap": false, "title": "PLT covered area [%]"}}}},
  {"data": {"name": "sd"}, "mark": {"type": "rule", "color": "#000", "strokeWidth": 1.5}, "encoding": {"x": {"field": "g", "type": "quantitative", "scale": {"domain": [0.54, 4.49], "nice": false, "zero": false}, "axis": null}, "y": {"field": "lo", "type": "quantitative", "scale": {"domain": [-10, 54.6], "nice": false, "zero": false}, "axis": null}, "y2": {"field": "hi"}}},
  {"data": {"name": "sd"}, "mark": {"type": "tick", "orient": "horizontal", "size": 6, "thickness": 1.5, "color": "#000"}, "encoding": {"x": {"field": "g", "type": "quantitative", "scale": {"domain": [0.54, 4.49], "nice": false, "zero": false}, "axis": null}, "y": {"field": "lo", "type": "quantitative", "scale": {"domain": [-10, 54.6], "nice": false, "zero": false}, "axis": null}}},
  {"data": {"name": "sd"}, "mark": {"type": "tick", "orient": "horizontal", "size": 6, "thickness": 1.5, "color": "#000"}, "encoding": {"x": {"field": "g", "type": "quantitative", "scale": {"domain": [0.54, 4.49], "nice": false, "zero": false}, "axis": null}, "y": {"field": "hi", "type": "quantitative", "scale": {"domain": [-10, 54.6], "nice": false, "zero": false}, "axis": null}}},
  {"data": {"name": "sd"}, "mark": {"type": "tick", "orient": "horizontal", "size": 27, "thickness": 2, "color": "#f01e1e"}, "encoding": {"x": {"field": "g", "type": "quantitative", "scale": {"domain": [0.54, 4.49], "nice": false, "zero": false}, "axis": null}, "y": {"field": "m", "type": "quantitative", "scale": {"domain": [-10, 54.6], "nice": false, "zero": false}, "axis": null}}},
  {"data": {"values": [{"x": 1.0, "x2": 3.03, "y": 45}, {"x": 1.965, "x2": 4.0, "y": 48.4}]}, "mark": {"type": "rule", "color": "#111", "strokeWidth": 1.3}, "encoding": {"x": {"field": "x", "type": "quantitative", "scale": {"domain": [0.54, 4.49], "nice": false, "zero": false}, "axis": {"orient": "top", "values": [1,2,3,4], "labels": false, "domain": false, "tickColor": "#9a9a9a", "tickSize": 3, "title": null}}, "x2": {"field": "x2"}, "y": {"field": "y", "type": "quantitative", "scale": {"domain": [-10, 54.6], "nice": false, "zero": false}, "axis": {"orient": "right", "values": [-10,0,10,20,30,40,50], "labels": false, "domain": false, "tickColor": "#9a9a9a", "tickSize": 3, "title": null}}}},
  {"data": {"values": [{"x":0.67,"x2":2.36,"y":-36.7,"y2":-36.7},{"x":0.67,"x2":0.67,"y":-33.7,"y2":-36.7},{"x":2.36,"x2":2.36,"y":-33.7,"y2":-36.7},{"x":1.51,"x2":1.51,"y":-36.7,"y2":-41.3},{"x":2.646,"x2":4.37,"y":-36.7,"y2":-36.7},{"x":2.646,"x2":2.646,"y":-33.7,"y2":-36.7},{"x":4.37,"x2":4.37,"y":-33.7,"y2":-36.7},{"x":3.486,"x2":3.486,"y":-36.7,"y2":-41.3}]},
   "mark": {"type": "rule", "color": "#a0a0a0", "strokeWidth": 1, "clip": false}, "encoding": {"x": {"field": "x", "type": "quantitative", "scale": {"domain": [0.54, 4.49], "nice": false, "zero": false}, "axis": null}, "x2": {"field": "x2"}, "y": {"field": "y", "type": "quantitative", "scale": {"domain": [-10, 54.6], "nice": false, "zero": false}, "axis": null}, "y2": {"field": "y2"}}},
  {"data": {"values": [{"x": 1.72, "y": -47.8, "t": "dynamic"}, {"x": 3.656, "y": -47.8, "t": "static"}]}, "mark": {"type": "text", "font": "Lato", "fontSize": 12.5, "fontWeight": "bold", "color": "#111", "align": "center", "baseline": "middle", "clip": false}, "encoding": {"x": {"field": "x", "type": "quantitative", "scale": {"domain": [0.54, 4.49], "nice": false, "zero": false}, "axis": null}, "y": {"field": "y", "type": "quantitative", "scale": {"domain": [-10, 54.6], "nice": false, "zero": false}, "axis": null}, "text": {"field": "t", "type": "nominal"}}},
  {"data": {"values": [{"x": -0.825, "y": -42.8, "t": "(d)"}]}, "mark": {"type": "text", "font": "Lato", "fontSize": 14, "fontWeight": "bold", "color": "#111", "align": "left", "baseline": "middle", "clip": false}, "encoding": {"x": {"field": "x", "type": "quantitative", "scale": {"domain": [0.54, 4.49], "nice": false, "zero": false}, "axis": null}, "y": {"field": "y", "type": "quantitative", "scale": {"domain": [-10, 54.6], "nice": false, "zero": false}, "axis": null}, "text": {"field": "t", "type": "nominal"}}}
 ]},
{"hconcat": [
{"width": 172, "height": 110,
 "resolve": {"axis": {"x": "independent", "y": "independent"}},
 "layer": [
  {"data": {"name": "e"}, "mark": {"type": "point", "strokeWidth": 1, "opacity": 1, "size": 30},
   "encoding": {
    "x": {"field": "x", "type": "quantitative", "scale": {"domain": [-2000, 500000], "nice": false, "zero": false}, "axis": {"values": [0,100000,200000,300000,400000,500000], "labelExpr": "datum.value == 0 ? '0' : format(datum.value/100000, '.1f') + '×10⁵'", "labelFontSize": 6.5, "labelOverlap": false, "title": null}},
    "y": {"field": "y", "type": "quantitative", "scale": {"domain": [-240, 20000], "nice": false, "zero": false}, "axis": {"values": [0,5000,10000,15000,20000], "labelExpr": "datum.value == 0 ? '0' : datum.value < 10000 ? format(datum.value/1000, '.1f') + '×10³' : format(datum.value/10000, '.1f') + '×10⁴'", "labelFontSize": 6.5, "labelOverlap": false, "title": ["Number of PLT", "(aggregates) per 1 mm²"]}},
    "shape": {"field": "s", "type": "nominal", "scale": {"domain": ["dyn PLT","dyn PLT + EC","stat PLT","stat PLT + EC"], "range": ["circle","M0,-0.75L0.72,0.55L-0.72,0.55Z","M-0.9,-0.9H0.9V0.9H-0.9Z M-0.25,-0.25H0.25V0.25H-0.25Z","M0,-0.55A0.55,0.55 0 1,1 0,0.55A0.55,0.55 0 1,1 0,-0.55Z"]},
      "legend": {"orient": "none", "legendX": 231, "legendY": 386, "direction": "horizontal", "title": null, "labelFont": "Lato", "labelFontSize": 10.5, "labelFontWeight": "bold", "labelColor": "#222", "columnPadding": 30, "symbolStrokeWidth": 1, "labelOffset": 7, "symbolSize": 40}},
    "fill": {"field": "s", "type": "nominal", "scale": {"domain": ["dyn PLT","dyn PLT + EC","stat PLT","stat PLT + EC"], "range": ["transparent","#222222","#efefef","#111111"]}},
    "stroke": {"field": "s", "type": "nominal", "scale": {"domain": ["dyn PLT","dyn PLT + EC","stat PLT","stat PLT + EC"], "range": ["#9a9a9a","#222222","#808080","#111111"]}}}},
  {"data": {"values": [{"x": -2000, "x2": 25000, "y": -240, "y2": 2100}]}, "mark": {"type": "rect", "fillOpacity": 0, "stroke": "#5b9bd5", "strokeWidth": 1.5, "clip": false}, "encoding": {"x": {"field": "x", "type": "quantitative", "scale": {"domain": [-2000, 500000], "nice": false, "zero": false}, "axis": {"orient": "top", "values": [0,100000,200000,300000,400000,500000], "labels": false, "domain": false, "tickColor": "#9a9a9a", "tickSize": 3, "title": null}}, "x2": {"field": "x2"}, "y": {"field": "y", "type": "quantitative", "scale": {"domain": [-240, 20000], "nice": false, "zero": false}, "axis": {"orient": "right", "values": [0,5000,10000,15000,20000], "labels": false, "domain": false, "tickColor": "#9a9a9a", "tickSize": 3, "title": null}}, "y2": {"field": "y2"}}},
  {"data": {"values": [{"x": 25000, "y": 2100, "x2": 605100, "y2": 20000}, {"x": 25000, "y": -240, "x2": 605100, "y2": -240}]}, "mark": {"type": "rule", "color": "#5b9bd5", "strokeWidth": 1.2, "clip": false}, "encoding": {"x": {"field": "x", "type": "quantitative", "scale": {"domain": [-2000, 500000], "nice": false, "zero": false}, "axis": null}, "x2": {"field": "x2"}, "y": {"field": "y", "type": "quantitative", "scale": {"domain": [-240, 20000], "nice": false, "zero": false}, "axis": null}, "y2": {"field": "y2"}}},
  {"data": {"values": [{"x": 570100, "y": -3736, "t": "PLT covered area per 1 mm² [µm²]"}]}, "mark": {"type": "text", "font": "Liberation Sans", "fontSize": 10.5, "fontWeight": "bold", "color": "#111", "align": "center", "baseline": "middle", "clip": false}, "encoding": {"x": {"field": "x", "type": "quantitative", "scale": {"domain": [-2000, 500000], "nice": false, "zero": false}, "axis": null}, "y": {"field": "y", "type": "quantitative", "scale": {"domain": [-240, 20000], "nice": false, "zero": false}, "axis": null}, "text": {"field": "t", "type": "nominal"}}},
  {"data": {"values": [{"x": -162500, "y": -10967, "t": "(e)"}]}, "mark": {"type": "text", "font": "Lato", "fontSize": 14, "fontWeight": "bold", "color": "#111", "align": "left", "baseline": "middle", "clip": false}, "encoding": {"x": {"field": "x", "type": "quantitative", "scale": {"domain": [-2000, 500000], "nice": false, "zero": false}, "axis": null}, "y": {"field": "y", "type": "quantitative", "scale": {"domain": [-240, 20000], "nice": false, "zero": false}, "axis": null}, "text": {"field": "t", "type": "nominal"}}}
 ]},
{"width": 163, "height": 110,
 "resolve": {"axis": {"x": "independent", "y": "independent"}},
 "layer": [
  {"data": {"name": "e"}, "mark": {"type": "point", "strokeWidth": 1, "opacity": 1, "clip": true, "size": 34},
   "encoding": {
    "x": {"field": "x", "type": "quantitative", "scale": {"domain": [-40, 20000], "nice": false, "zero": false}, "axis": {"values": [0,5000,10000,15000,20000], "labelExpr": "datum.value == 0 ? '0' : format(datum.value/10000, '.1f') + '×10⁴'", "labelFontSize": 6.5, "labelOverlap": false, "title": null}},
    "y": {"field": "y", "type": "quantitative", "scale": {"domain": [-40, 2015], "nice": false, "zero": false}, "axis": {"values": [0,500,1000,1500,2000], "labelExpr": "datum.value == 0 ? '0' : datum.value < 1000 ? format(datum.value/100, '.1f') + '×10²' : format(datum.value/1000, '.1f') + '×10³'", "labelFontSize": 6.5, "labelOverlap": false, "title": null}},
    "shape": {"field": "s", "type": "nominal", "scale": {"domain": ["dyn PLT","dyn PLT + EC","stat PLT","stat PLT + EC"], "range": ["circle","M0,-0.75L0.72,0.55L-0.72,0.55Z","M-0.9,-0.9H0.9V0.9H-0.9Z M-0.25,-0.25H0.25V0.25H-0.25Z","M0,-0.55A0.55,0.55 0 1,1 0,0.55A0.55,0.55 0 1,1 0,-0.55Z"]}, "legend": null},
    "fill": {"field": "s", "type": "nominal", "scale": {"domain": ["dyn PLT","dyn PLT + EC","stat PLT","stat PLT + EC"], "range": ["transparent","#222222","#efefef","#111111"]}, "legend": null},
    "stroke": {"field": "s", "type": "nominal", "scale": {"domain": ["dyn PLT","dyn PLT + EC","stat PLT","stat PLT + EC"], "range": ["#9a9a9a","#222222","#808080","#111111"]}, "legend": null}}},
  {"data": {"values": [{"x": 0, "y": 0}]}, "mark": {"type": "point", "opacity": 0},
   "encoding": {
    "x": {"field": "x", "type": "quantitative", "scale": {"domain": [-40, 20000], "nice": false, "zero": false}, "axis": {"orient": "top", "values": [0,5000,10000,15000,20000], "labels": false, "domain": false, "tickColor": "#9a9a9a", "tickSize": 3, "title": null}},
    "y": {"field": "y", "type": "quantitative", "scale": {"domain": [-40, 2015], "nice": false, "zero": false}, "axis": {"orient": "right", "values": [0,500,1000,1500,2000], "labels": false, "domain": false, "tickColor": "#9a9a9a", "tickSize": 3, "title": null}}}}
 ]}
], "spacing": 36, "bounds": "flush"}
], "spacing": 72, "bounds": "flush"}
],
"config": {
 "view": {"stroke": "#c4c4c4", "strokeWidth": 1},
 "axis": {"grid": false, "labelFont": "Liberation Sans", "labelFontWeight": "bold", "labelFontSize": 8, "labelColor": "#1a1a1a", "titleFont": "Liberation Sans", "titleFontWeight": "bold", "titleFontSize": 9, "titleColor": "#1a1a1a", "domainColor": "#555555", "tickColor": "#555555", "tickSize": 4, "labelPadding": 2, "labelFlush": false, "labelOverlap": false, "titlePadding": 6},
 "title": {"font": "Lato", "fontSize": 12.5, "fontWeight": "bold", "color": "#111111", "offset": 3},
 "legend": {"padding": 0}
}
}
